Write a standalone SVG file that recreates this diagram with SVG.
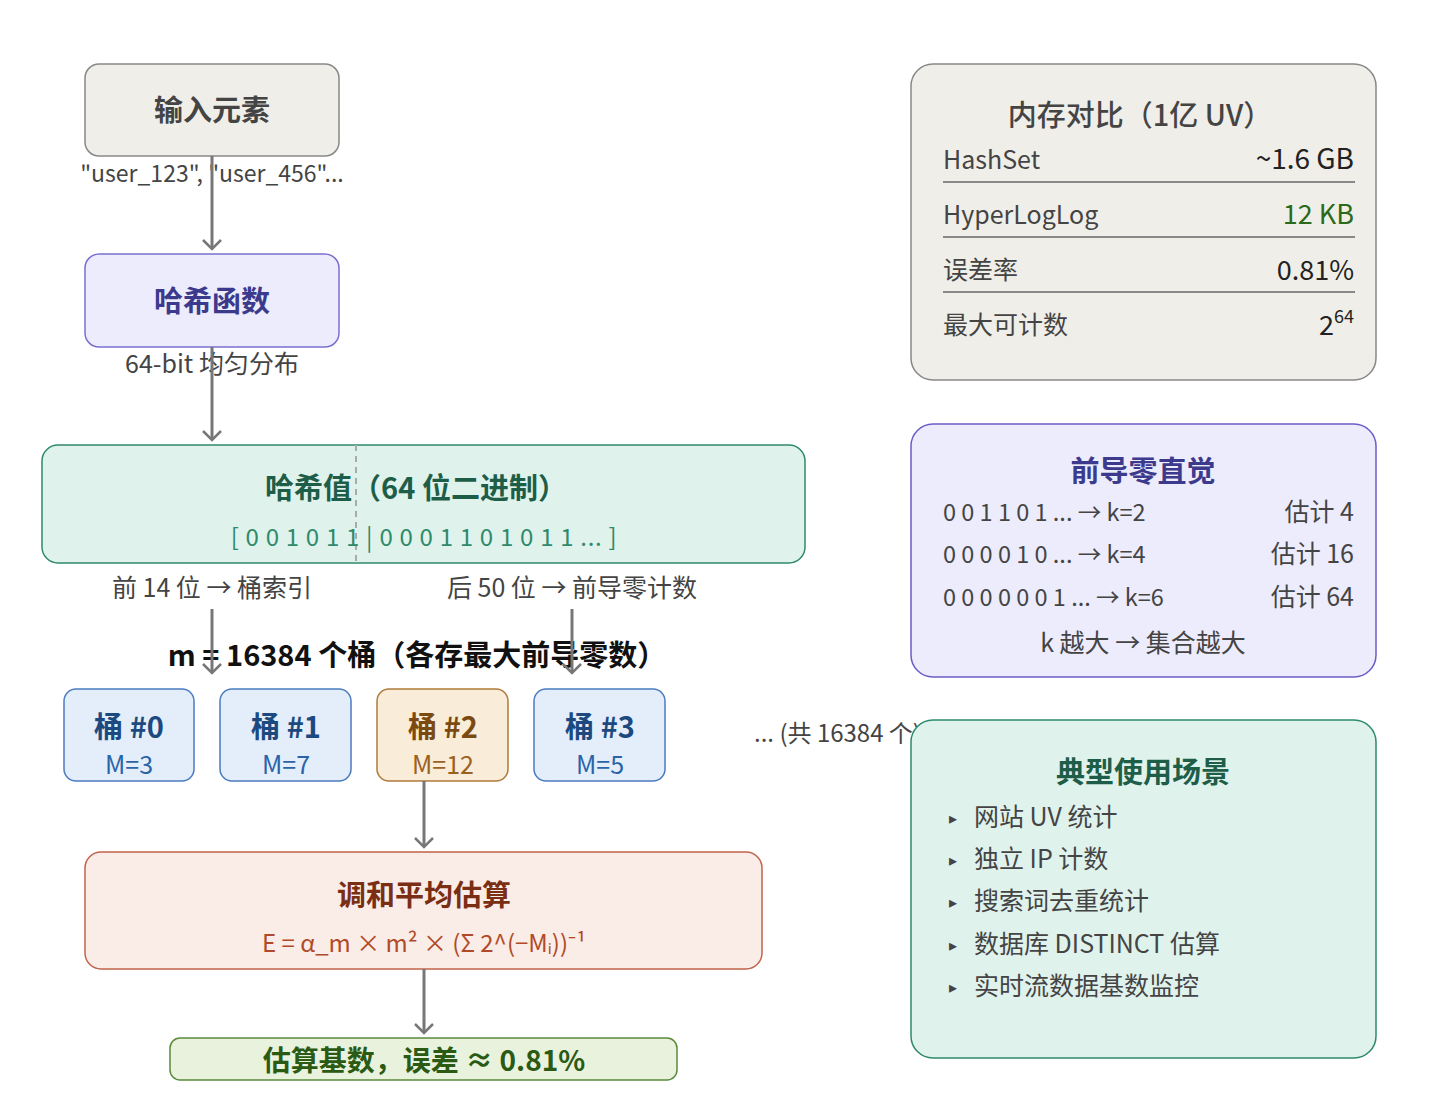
<svg xmlns="http://www.w3.org/2000/svg" width="1440" height="1102" viewBox="0 0 1440 1102">
<defs>
<marker id="arr" markerUnits="userSpaceOnUse" markerWidth="24" markerHeight="24" refX="12" refY="12" orient="auto" viewBox="0 0 24 24">
<path d="M3,3 L12,12 L3,21" fill="none" stroke="#777" stroke-width="2.5"/>
</marker>
<style>
text{font-family:"Noto Sans CJK SC","Noto Sans",sans-serif;}
.t26{font-size:29px;font-weight:700;text-anchor:middle;}
.lbl{font-size:25px;fill:#444;}
.mid{text-anchor:middle;}
.end{text-anchor:end;}
.conn{stroke:#777;stroke-width:3;fill:none;marker-end:url(#arr);}
.bucket{fill:#e4eefa;stroke:#4a7cc0;stroke-width:1.5;}
.bt{font-size:29px;font-weight:700;fill:#1c4a80;text-anchor:middle;}
.bm{font-size:25px;fill:#2a64a8;text-anchor:middle;}
.val{font-size:27px;fill:#222;text-anchor:end;}
.li{font-size:25px;fill:#444;}
.bul{font-size:16px;fill:#444;}
.bits{font-size:23.5px;fill:#444;}
</style>
</defs>
<rect width="1440" height="1102" fill="#ffffff"/>

<g id="input">
<rect x="85" y="64" width="254" height="92" rx="14" fill="#f0eee8" stroke="#888" stroke-width="1.5"/>
<text x="212" y="121" class="t26" fill="#444">输入元素</text>
</g>
<text x="212" y="182" font-size="23" fill="#444" text-anchor="middle">"user_123", "user_456"...</text>

<g id="hashfn">
<rect x="85" y="254" width="254" height="93" rx="14" fill="#ececfc" stroke="#7b6fd0" stroke-width="1.5"/>
<text x="212" y="312" class="t26" fill="#3c3a8c">哈希函数</text>
</g>
<text x="212" y="373" class="lbl mid">64-bit 均匀分布</text>

<g id="hashval">
<rect x="42" y="445" width="763" height="118" rx="16" fill="#e0f2ec" stroke="#2e8a6a" stroke-width="1.5"/>
<line x1="356" y1="445" x2="356" y2="563" stroke="#aaa" stroke-width="2" stroke-dasharray="6,5"/>
<text x="416" y="499" class="t26" fill="#1e5e48">哈希值（64 位二进制）</text>
<text x="424" y="546" font-size="24" fill="#2e8a6a" text-anchor="middle" letter-spacing="0.7">[ 0 0 1 0 1 1 | 0 0 0 1 1 0 1 0 1 1 ... ]</text>
</g>
<text x="212" y="597" class="lbl mid">前 14 位 → 桶索引</text>
<text x="572" y="597" class="lbl mid">后 50 位 → 前导零计数</text>

<text x="417" y="666" font-size="29" font-weight="700" fill="#111" text-anchor="middle">m = 16384 个桶（各存最大前导零数）</text>

<g id="bucket0">
<rect x="64" y="689" width="130" height="92" rx="12" class="bucket"/>
<text x="129" y="738" class="bt">桶 #0</text>
<text x="129" y="774" class="bm">M=3</text>
</g>
<g id="bucket1">
<rect x="220" y="689" width="131" height="92" rx="12" class="bucket"/>
<text x="286" y="738" class="bt">桶 #1</text>
<text x="286" y="774" class="bm">M=7</text>
</g>
<g id="bucket2">
<rect x="377" y="689" width="131" height="92" rx="12" fill="#f9ecd8" stroke="#b07a3a" stroke-width="1.5"/>
<text x="443" y="738" class="bt" style="fill:#7a4a10">桶 #2</text>
<text x="443" y="774" class="bm" style="fill:#9a6220">M=12</text>
</g>
<g id="bucket3">
<rect x="534" y="689" width="131" height="92" rx="12" class="bucket"/>
<text x="600" y="738" class="bt">桶 #3</text>
<text x="600" y="774" class="bm">M=5</text>
</g>
<text x="754" y="742" font-size="24" fill="#444">... (共 16384 个)</text>

<g id="harmonic">
<rect x="85" y="852" width="677" height="117" rx="16" fill="#faece6" stroke="#c0644a" stroke-width="1.5"/>
<text x="424" y="906" class="t26" fill="#7a2e14">调和平均估算</text>
<text x="424" y="952" font-size="24" fill="#b04a28" text-anchor="middle">E = α_m × m² × (Σ 2^(−Mᵢ))⁻¹</text>
</g>

<g id="result">
<rect x="170" y="1038" width="507" height="42" rx="10" fill="#e8f2dc" stroke="#5a8a3a" stroke-width="1.5"/>
<text x="424" y="1071" class="t26" fill="#2a5a14" style="font-size:28px">估算基数，误差 ≈ 0.81%</text>
</g>

<g id="connectors">
<line x1="212" y1="156" x2="212" y2="249" class="conn"/>
<line x1="212" y1="347" x2="212" y2="440" class="conn"/>
<line x1="212" y1="609" x2="212" y2="673" class="conn"/>
<line x1="572" y1="609" x2="572" y2="673" class="conn"/>
<line x1="424" y1="781" x2="424" y2="847" class="conn"/>
<line x1="424" y1="969" x2="424" y2="1033" class="conn"/>
</g>

<g id="memory">
<rect x="911" y="64" width="465" height="316" rx="22" fill="#f0eee8" stroke="#888" stroke-width="1.5"/>
<text x="1140" y="126" font-size="29" fill="#444" text-anchor="middle" font-weight="500">内存对比（1亿 UV）</text>
<text x="943" y="169" class="lbl">HashSet</text>
<text x="1354" y="169" class="val" style="font-size:28px">~1.6 GB</text>
<line x1="943" y1="182" x2="1355" y2="182" stroke="#888" stroke-width="2"/>
<text x="943" y="224" class="lbl">HyperLogLog</text>
<text x="1354" y="224" class="val" style="fill:#2a6a1a">12 KB</text>
<line x1="943" y1="237" x2="1355" y2="237" stroke="#888" stroke-width="2"/>
<text x="943" y="279" class="lbl">误差率</text>
<text x="1354" y="280" class="val">0.81%</text>
<line x1="943" y1="292" x2="1355" y2="292" stroke="#888" stroke-width="2"/>
<text x="943" y="334" class="lbl">最大可计数</text>
<text x="1354" y="335" class="val">2<tspan font-size="18" dy="-12">64</tspan></text>
</g>

<g id="leadingzero">
<rect x="911" y="424" width="465" height="253" rx="22" fill="#ececfc" stroke="#6a5ec8" stroke-width="1.5"/>
<text x="1143" y="482" class="t26" fill="#3c3a8c">前导零直觉</text>
<text x="943" y="521" class="bits">0 0 1 1 0 1 ... → k=2</text>
<text x="1354" y="521" class="lbl end">估计 4</text>
<text x="943" y="563" class="bits">0 0 0 0 1 0 ... → k=4</text>
<text x="1354" y="563" class="lbl end">估计 16</text>
<text x="943" y="606" class="bits">0 0 0 0 0 0 1 ... → k=6</text>
<text x="1354" y="606" class="lbl end">估计 64</text>
<text x="1143" y="652" class="lbl mid">k 越大 → 集合越大</text>
</g>

<g id="usecases">
<rect x="911" y="720" width="465" height="338" rx="22" fill="#e0f2ec" stroke="#2e8a6a" stroke-width="1.5"/>
<text x="1143" y="783" class="t26" fill="#1e5e48">典型使用场景</text>
<text x="949" y="824" class="bul">▸</text>
<text x="974" y="826" class="li">网站 UV 统计</text>
<text x="949" y="866" class="bul">▸</text>
<text x="974" y="868" class="li">独立 IP 计数</text>
<text x="949" y="908" class="bul">▸</text>
<text x="974" y="910" class="li">搜索词去重统计</text>
<text x="949" y="951" class="bul">▸</text>
<text x="974" y="953" class="li">数据库 DISTINCT 估算</text>
<text x="949" y="993" class="bul">▸</text>
<text x="974" y="995" class="li">实时流数据基数监控</text>
</g>
</svg>
